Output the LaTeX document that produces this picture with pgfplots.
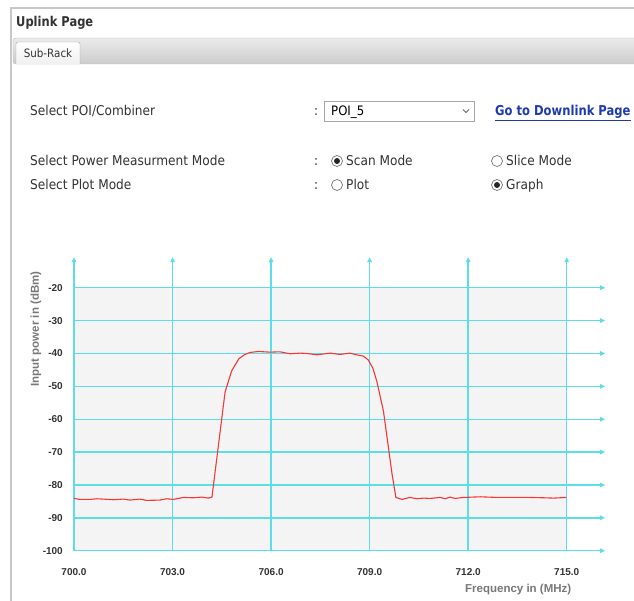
\documentclass[border=0pt]{standalone}
\usepackage{fontspec}
\setmainfont{Liberation Sans}
\newfontfamily\uifont[FakeStretch=0.9]{DejaVu Sans}
\newfontfamily\uibold[FakeStretch=0.85]{DejaVu Sans Bold}
\usepackage{pgfplots}
\pgfplotsset{compat=1.18}
\usepackage{pgfplotstable}
\usetikzlibrary{arrows.meta}

\definecolor{gridc}{RGB}{92,222,232}
\definecolor{plotbg}{RGB}{244,244,244}
\definecolor{trace}{RGB}{245,55,55}
\definecolor{uitext}{RGB}{51,51,51}
\definecolor{linkc}{RGB}{30,58,175}
\definecolor{bordc}{RGB}{200,200,200}
\definecolor{labc}{RGB}{120,120,120}

% uplink scan, POI_5
\pgfplotstableread{
f p
700.00 -84.1
700.18 -84.4
700.49 -84.4
700.70 -84.2
700.89 -84.3
701.20 -84.5
701.50 -84.3
701.70 -84.6
702.00 -84.3
702.21 -84.7
702.62 -84.6
702.82 -84.2
703.02 -84.4
703.33 -83.8
703.63 -83.9
703.89 -83.7
704.09 -84.0
704.20 -83.7
704.60 -51.7
704.80 -45.3
705.02 -41.6
705.20 -40.3
705.36 -39.7
705.61 -39.4
705.97 -39.6
706.27 -39.5
706.58 -40.1
706.88 -39.9
707.09 -40.0
707.39 -40.4
707.80 -39.9
708.10 -40.3
708.40 -39.9
708.60 -40.4
708.81 -40.8
708.96 -42.0
709.10 -44.5
709.22 -48.5
709.32 -53.0
709.42 -57.5
709.57 -68.4
709.68 -76.5
709.80 -83.8
709.98 -84.4
710.23 -83.8
710.44 -84.2
710.64 -84.0
710.84 -84.1
711.15 -83.8
711.30 -84.2
711.45 -83.7
711.60 -84.1
711.86 -83.8
712.37 -83.6
712.88 -83.8
713.40 -83.8
713.90 -83.8
714.30 -83.9
714.60 -84.0
714.80 -83.9
714.95 -83.8
715.00 -83.8
}\scandata

\begin{document}
\begin{tikzpicture}
\path[use as bounding box] (0,0) rectangle (634pt,-601pt);

% page frame and header
\draw[bordc, line width=1.5pt] (11pt,-601pt) -- (11pt,-8pt) -- (640pt,-8pt);
\node[anchor=base west, inner sep=0pt, text=uitext, font=\uibold\fontsize{13.5}{15}\selectfont] at (16pt,-27pt) {Uplink Page};

% tab strip
\draw[black!28, top color=black!8, bottom color=black!20, rounded corners=3pt]
  (13pt,-64pt) rectangle (645pt,-38pt);
\draw[black!35, top color=white, bottom color=black!6, rounded corners=2pt]
  (16pt,-64.5pt) -- (16pt,-42pt) -- (80pt,-42pt) -- (80pt,-64.5pt);
\node[anchor=base, inner sep=0pt, text=uitext, font=\uifont\fontsize{11.5}{13}\selectfont] at (48pt,-57.5pt) {Sub-Rack};

% form rows
\begin{scope}[every node/.style={anchor=base west, inner sep=0pt, text=uitext, font=\uifont\fontsize{13.5}{16}\selectfont}]
\node at (30pt,-116pt) {Select POI/Combiner};
\node at (30pt,-166pt) {Select Power Measurment Mode};
\node at (30pt,-190pt) {Select Plot Mode};
\node at (314pt,-116pt) {:};
\node at (314pt,-166pt) {:};
\node at (314pt,-190pt) {:};
\node at (346pt,-166pt) {Scan Mode};
\node at (506pt,-166pt) {Slice Mode};
\node at (346pt,-190pt) {Plot};
\node at (506pt,-190pt) {Graph};
\end{scope}
\draw[black!35, fill=white] (324pt,-101pt) rectangle (474pt,-121pt);
\node[anchor=base west, inner sep=0pt, text=black, font=\uifont\fontsize{13}{15}\selectfont] at (331pt,-115.5pt) {POI\_5};
\draw[black!60, line width=0.8pt] (463pt,-109.5pt) -- (466pt,-112.5pt) -- (469pt,-109.5pt);
\node[anchor=base west, inner sep=0pt, text=linkc, font=\uibold\fontsize{13.6}{15}\selectfont] at (495pt,-116pt) {\underline{Go to Downlink Page}};

% radio buttons
\foreach \x/\y/\on in {337/161/1, 497/161/0, 337/185/0, 497/185/1}{
  \draw[black!55, fill=white, line width=0.7pt] (\x pt,-\y pt) circle (5.5pt);
  \ifnum\on=1 \fill[black!85] (\x pt,-\y pt) circle (3pt); \fi
}

% chart
\begin{axis}[
  at={(74pt,-550.7pt)}, anchor=south west,
  scale only axis, width=492.7pt, height=263pt,
  xmin=700, xmax=715, ymin=-100, ymax=-20,
  clip=false,
  axis line style={draw=none},
  major tick length=0pt,
  axis background/.style={fill=plotbg},
  xtick={700,703,706,709,712,715},
  xticklabels={700.0,703.0,706.0,709.0,712.0,715.0},
  ytick={-100,-90,-80,-70,-60,-50,-40,-30,-20},
  yticklabels={-100,-90,-80,-70,-60,-50,-40,-30,-20},
  ticklabel style={font=\bfseries\fontsize{10}{12}\selectfont, text={black!80}, inner sep=0pt},
  xticklabel style={anchor=center, yshift=-21pt},
  yticklabel style={anchor=east, xshift=-11pt},
  xlabel={Frequency in (MHz)},
  ylabel={Input power in (dBm)},
  label style={font=\bfseries\fontsize{11.5}{13}\selectfont, text=labc},
  xlabel style={at={(rel axis cs:0.9016,-0.1494)}, anchor=center},
  ylabel style={at={(rel axis cs:-0.0771,0.843)}, anchor=center},
]
\pgfplotsinvokeforeach{-100,-90,-80,-70,-60,-50,-40,-30,-20}{
  \draw[gridc, line width=1.4pt, -{Triangle[length=5pt,width=4.5pt]}] (axis cs:700,#1) -- (axis cs:716.17,#1);
}
\pgfplotsinvokeforeach{700,703,706,709,712,715}{
  \draw[gridc, line width=1.4pt, -{Triangle[length=5pt,width=4.5pt]}] (axis cs:#1,-100) -- (axis cs:#1,-10.7);
}
\addplot[trace, line width=1.1pt, mark=none] table[x=f, y=p] {\scandata};
\end{axis}
\end{tikzpicture}
\end{document}
